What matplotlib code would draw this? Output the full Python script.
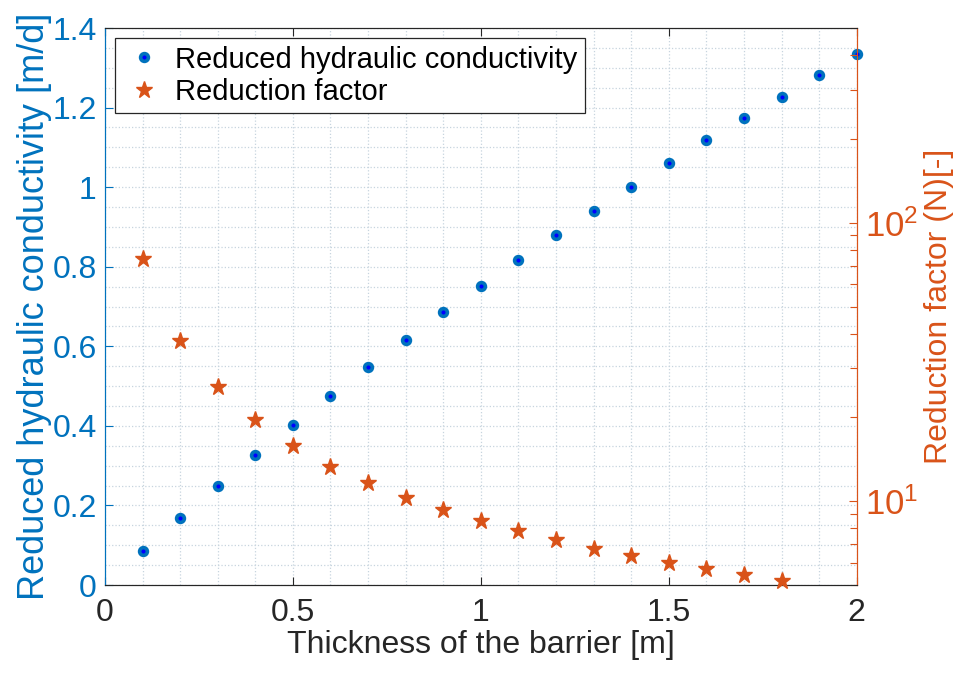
import numpy as np
import matplotlib
matplotlib.use("Agg")
import matplotlib.pyplot as plt
from matplotlib.ticker import MultipleLocator, FuncFormatter, LogLocator, NullFormatter

# thickness of the barrier [m]
thickness = [0.1, 0.2, 0.3, 0.4, 0.5, 0.6, 0.7, 0.8, 0.9, 1.0,
             1.1, 1.2, 1.3, 1.4, 1.5, 1.6, 1.7, 1.8, 1.9, 2.0]
# reduced hydraulic conductivity [m/d]
k_reduced = [0.086, 0.168, 0.248, 0.327, 0.401, 0.475, 0.547, 0.617, 0.685, 0.751,
             0.817, 0.879, 0.941, 1.001, 1.060, 1.118, 1.173, 1.227, 1.281, 1.334]
# reduction factor N [-] (only first 18 thicknesses visible)
thickness_n = thickness[:18]
reduction = [74.1, 37.7, 25.6, 19.5, 15.8, 13.3, 11.6, 10.3, 9.29, 8.46,
             7.79, 7.23, 6.75, 6.34, 6.0, 5.70, 5.42, 5.17]

blue = (0, 0.447, 0.741)
orange = (0.85, 0.325, 0.098)
dark = (0.15, 0.15, 0.15)

plt.rcParams['font.family'] = ['Liberation Sans', 'DejaVu Sans']
plt.rcParams['mathtext.fontset'] = 'custom'
plt.rcParams['mathtext.rm'] = 'Liberation Sans'
plt.rcParams['mathtext.it'] = 'Liberation Sans:italic'
plt.rcParams['mathtext.default'] = 'regular'
FS = 23

fig = plt.figure(figsize=(9.63, 6.75), dpi=100)
ax = fig.add_axes([0.109, 0.1333, 0.7806, 0.8252])
ax2 = ax.twinx()

h1, = ax.plot(thickness, k_reduced, 'o', ls='none', ms=5.6, mew=2.6,
              mec=blue, mfc=(0, 0, 1), clip_on=False, zorder=3,
              label='Reduced hydraulic conductivity')
h2, = ax2.plot(thickness_n, reduction, '*', ls='none', ms=12.5,
               color=orange, mec=orange, clip_on=False, zorder=3,
               label='Reduction factor')

ax.set_xlim(0, 2)
ax.set_ylim(0, 1.4)
ax2.set_yscale('log')
ax2.set_ylim(5, 500)

ax.xaxis.set_major_locator(MultipleLocator(0.5))
ax.xaxis.set_minor_locator(MultipleLocator(0.1))
ax.yaxis.set_major_locator(MultipleLocator(0.2))
ax.yaxis.set_minor_locator(MultipleLocator(0.05))
fmt = FuncFormatter(lambda v, p: f'{v:g}')
ax.xaxis.set_major_formatter(fmt)
ax.yaxis.set_major_formatter(fmt)

ax.grid(True, which='both', ls=':', color=(0.78, 0.83, 0.87), lw=0.9)
ax.set_axisbelow(True)

ax.tick_params(axis='x', which='major', direction='in', length=5.5, width=0.8,
               top=True, colors=dark, labelsize=FS, pad=9)
ax.tick_params(axis='x', which='minor', length=0, top=True)
ax.tick_params(axis='y', which='major', direction='in', length=5.5, width=0.8,
               colors=blue, labelsize=FS, pad=6)
ax.tick_params(axis='y', which='minor', length=0)

ax2.yaxis.set_major_locator(LogLocator(base=10))
ax2.yaxis.set_minor_locator(LogLocator(base=10, subs=np.arange(2, 10)))
ax2.yaxis.set_minor_formatter(NullFormatter())
ax2.tick_params(axis='y', which='both', direction='in', colors=orange,
                labelsize=FS + 2, width=0.8, pad=6)
ax2.tick_params(axis='y', which='major', length=5.5)
ax2.tick_params(axis='y', which='minor', length=5)

for s in ['top', 'bottom']:
    ax.spines[s].set_color(dark)
    ax2.spines[s].set_color(dark)
ax.spines['left'].set_color(blue)
ax2.spines['left'].set_color(blue)
ax2.spines['right'].set_color(orange)
ax.spines['right'].set_color(orange)
for a in (ax, ax2):
    for s in a.spines.values():
        s.set_linewidth(0.8)

ax.set_xlabel('Thickness of the barrier [m]', color=dark, fontsize=FS, labelpad=2)
ax.set_ylabel('Reduced hydraulic conductivity [m/d]', color=blue, fontsize=26, labelpad=0)
ax2.set_ylabel('Reduction factor (N)[-]', color=orange, fontsize=FS, labelpad=4)

leg = ax2.legend(handles=[h1, h2], loc='upper left', fontsize=21,
                 fancybox=False, framealpha=1, edgecolor=dark,
                 borderaxespad=0.35, handletextpad=0.3, borderpad=0.25,
                 labelspacing=0.15, handlelength=1.5)
leg.get_frame().set_linewidth(0.9)

fig.savefig('out.png', dpi=100)
